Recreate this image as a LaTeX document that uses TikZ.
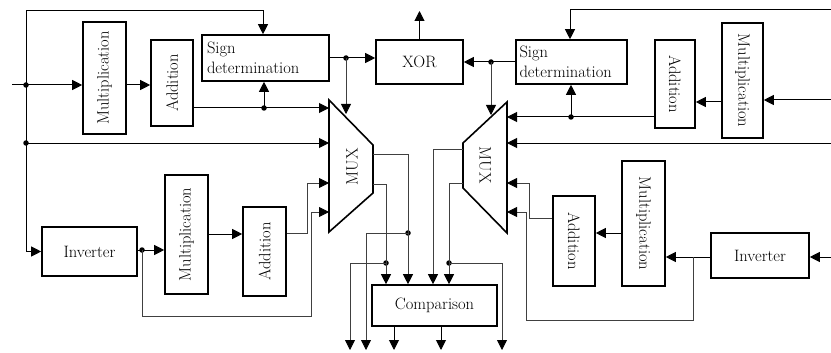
\documentclass[tikz,border=0pt]{standalone}
\usepackage{fontspec}
\setmainfont{Latin Modern Roman}
\usetikzlibrary{arrows.meta}
\begin{document}
\begin{tikzpicture}[x=1pt,y=-1pt,
  blk/.style={draw,line width=1.6pt,rectangle,inner sep=0pt},
  lbl/.style={font=\fontsize{16.5}{19.5}\selectfont,inner sep=0pt},
  wire/.style={line width=1pt},
  fine/.style={line width=0.8pt,draw=black!75},
  arr/.style={-{Triangle[length=10pt,width=10pt,color=black]}},
  jdot/.style={circle,fill,inner sep=0pt,minimum size=5.5pt}]
\useasboundingbox (0,0) rectangle (831,353);

% ---------- blocks ----------
\node[blk,minimum width=43pt,minimum height=112pt] (mulA) at (104.5,78) {};
\node[lbl,rotate=90] (mulAt) at (mulA) {Multiplication};
\node[blk,minimum width=42pt,minimum height=86pt] (addA) at (172,83) {};
\node[lbl,rotate=90] (addAt) at (addA) {Addition};
\node[blk,lbl,minimum width=127pt,minimum height=46pt,align=left,text width=117pt] (sgnA) at (265.5,58) {Sign\\determination};
\node[blk,lbl,minimum width=87pt,minimum height=44pt] (xor) at (419.5,62) {XOR};
\node[blk,lbl,minimum width=111pt,minimum height=44pt,align=left,text width=104pt] (sgnB) at (571.5,62) {Sign\\determination};
\node[blk,minimum width=40pt,minimum height=88pt] (addB) at (675,84) {};
\node[lbl,rotate=-90] (addBt) at (addB) {Addition};
\node[blk,minimum width=41pt,minimum height=115pt] (mulB) at (742.5,80.5) {};
\node[lbl,rotate=-90] (mulBt) at (mulB) {Multiplication};

\node[blk,lbl,minimum width=95pt,minimum height=49pt] (invC) at (89.5,251.5) {Inverter};
\node[blk,minimum width=43pt,minimum height=119pt] (mulC) at (186.5,234.5) {};
\node[lbl,rotate=90] (mulCt) at (mulC) {Multiplication};
\node[blk,minimum width=43pt,minimum height=89pt] (addC) at (264.5,251.5) {};
\node[lbl,rotate=90] (addCt) at (addC) {Addition};

\node[blk,lbl,minimum width=125pt,minimum height=41pt] (cmp) at (434.5,305.5) {Comparison};

\node[blk,lbl,minimum width=98pt,minimum height=45pt] (invD) at (760,255.5) {Inverter};
\node[blk,minimum width=43pt,minimum height=125pt] (mulD) at (643.5,223.5) {};
\node[lbl,rotate=-90] (mulDt) at (mulD) {Multiplication};
\node[blk,minimum width=42pt,minimum height=90pt] (addD) at (574,241) {};
\node[lbl,rotate=-90] (addDt) at (addD) {Addition};

% ---------- multiplexers ----------
\draw[line width=1.6pt,line join=miter] (329,100) -- (373,145) -- (373,193) -- (329,232) -- cycle;
\node[lbl,rotate=90] (muxAt) at (352,167) {MUX};
\draw[line width=1.6pt,line join=miter] (507,102) -- (463,143) -- (463,188) -- (507,233) -- cycle;
\node[lbl,rotate=-90] (muxBt) at (485,165) {MUX};

% inputs of the left MUX
\coordinate (mA1) at (329,108);
\coordinate (mA2) at (329,143);
\coordinate (mA3) at (329,183);
\coordinate (mA4) at (329,212);
\coordinate (mAtop) at (346,114);
% outputs of the left MUX
\coordinate (oA1) at (373,154);
\coordinate (oA2) at (373,184);
% inputs of the right MUX
\coordinate (mB1) at (507,117);
\coordinate (mB2) at (507,143);
\coordinate (mB3) at (507,183);
\coordinate (mB4) at (507,212);
\coordinate (mBtop) at (491,115);
% outputs of the right MUX
\coordinate (oB1) at (463,149);
\coordinate (oB2) at (463,183);

% free ends
\coordinate (inA) at (12,85);
\coordinate (outX) at (419.5,11);
\coordinate (inTop) at (831,10);
\coordinate (inB) at (831,100);
\coordinate (inB2) at (831,143);
\coordinate (inD) at (831,257);
\coordinate (q1) at (350,350);
\coordinate (q2) at (366,350);
\coordinate (q3) at (394,350);
\coordinate (q4) at (441,350);
\coordinate (q5) at (502,350);

% ---------- upper left ----------
\node[jdot] (jA) at (26,85) {};
\node[jdot] (jB) at (26,143) {};
\draw[wire,arr] (inA) -- (mulA.west |- inA);
\draw[wire,arr] (jA.center) -- (26,11) -| (sgnA.north -| 263,0);
\draw[wire,arr] (jA.center) |- (invC.west);
\draw[wire,arr] (jB.center) -- (mA2);
\draw[wire,arr] (mulA.east |- inA) -- (addA.west |- inA);
\node[jdot] (jC) at (264,108) {};
\draw[wire,arr] (addA.east |- mA1) -- (mA1);
\draw[wire,arr] (jC.center) -- (jC |- sgnA.south);
\node[jdot] (jD) at (346,58) {};
\draw[wire,arr] (sgnA.east |- jD) -- (xor.west |- jD);
\draw[fine,arr] (jD.center) -- (mAtop);
\draw[wire,arr] (xor.north) -- (outX);

% ---------- upper right ----------
\node[jdot] (jE) at (491,62) {};
\draw[wire,arr] (sgnB.west) -- (xor.east);
\draw[fine,arr] (jE.center) -- (mBtop);
\draw[wire,arr] (inTop) -| (sgnB.north -| 570,0);
\draw[wire,arr] (inB) -- (mulB.east |- inB);
\draw[wire,arr] (mulB.west |- 0,102) -- (addB.east |- 0,102);
\node[jdot] (jF) at (571,117) {};
\draw[wire,arr] (addB.west |- mB1) -- (mB1);
\draw[wire,arr] (jF.center) -- (jF |- sgnB.south);
\draw[wire,arr] (inB2) -- (mB2);

% ---------- lower left ----------
\node[jdot] (jG) at (142,250) {};
\draw[wire,arr] (invC.east |- jG) -- (mulC.west |- jG);
\draw[fine,arr] (jG.center) -- (142,316) -| (311,212) -- (mA4);
\draw[wire,arr] (mulC.east |- 0,234) -- (addC.west |- 0,234);
\draw[fine,arr] (addC.east |- 0,233) -| (307,183) -- (mA3);

% ---------- lower right ----------
\draw[wire,arr] (inD) -- (invD.east |- inD);
\draw[wire,arr] (invD.west |- inD) -- (mulD.east |- inD);
\draw[fine,arr] (693,257) -- (693,320) -| (526,212) -- (mB4);
\draw[wire,arr] (mulD.west |- 0,233) -- (addD.east |- 0,233);
\draw[fine,arr] (addD.west |- 0,218) -| (529,183) -- (mB3);

% ---------- comparison stage ----------
\draw[fine,arr] (oB1) -| (cmp.north -| 433,0);
\node[jdot] (jH) at (449,263) {};
\draw[fine] (oB2) -| (jH.center);
\draw[fine,arr] (jH.center) -- (cmp.north -| jH);
\draw[fine,arr] (jH.center) -| (q5);
\node[jdot] (jI) at (408,233) {};
\draw[fine] (oA1) -| (jI.center);
\draw[fine,arr] (jI.center) -- (cmp.north -| jI);
\draw[fine,arr] (jI.center) -| (q2);
\node[jdot] (jJ) at (386,263) {};
\draw[fine] (oA2) -| (jJ.center);
\draw[fine,arr] (jJ.center) -- (cmp.north -| jJ);
\draw[fine,arr] (jJ.center) -| (q1);
\draw[wire,arr] (cmp.south -| q3) -- (q3);
\draw[wire,arr] (cmp.south -| q4) -- (q4);
\end{tikzpicture}
\end{document}
